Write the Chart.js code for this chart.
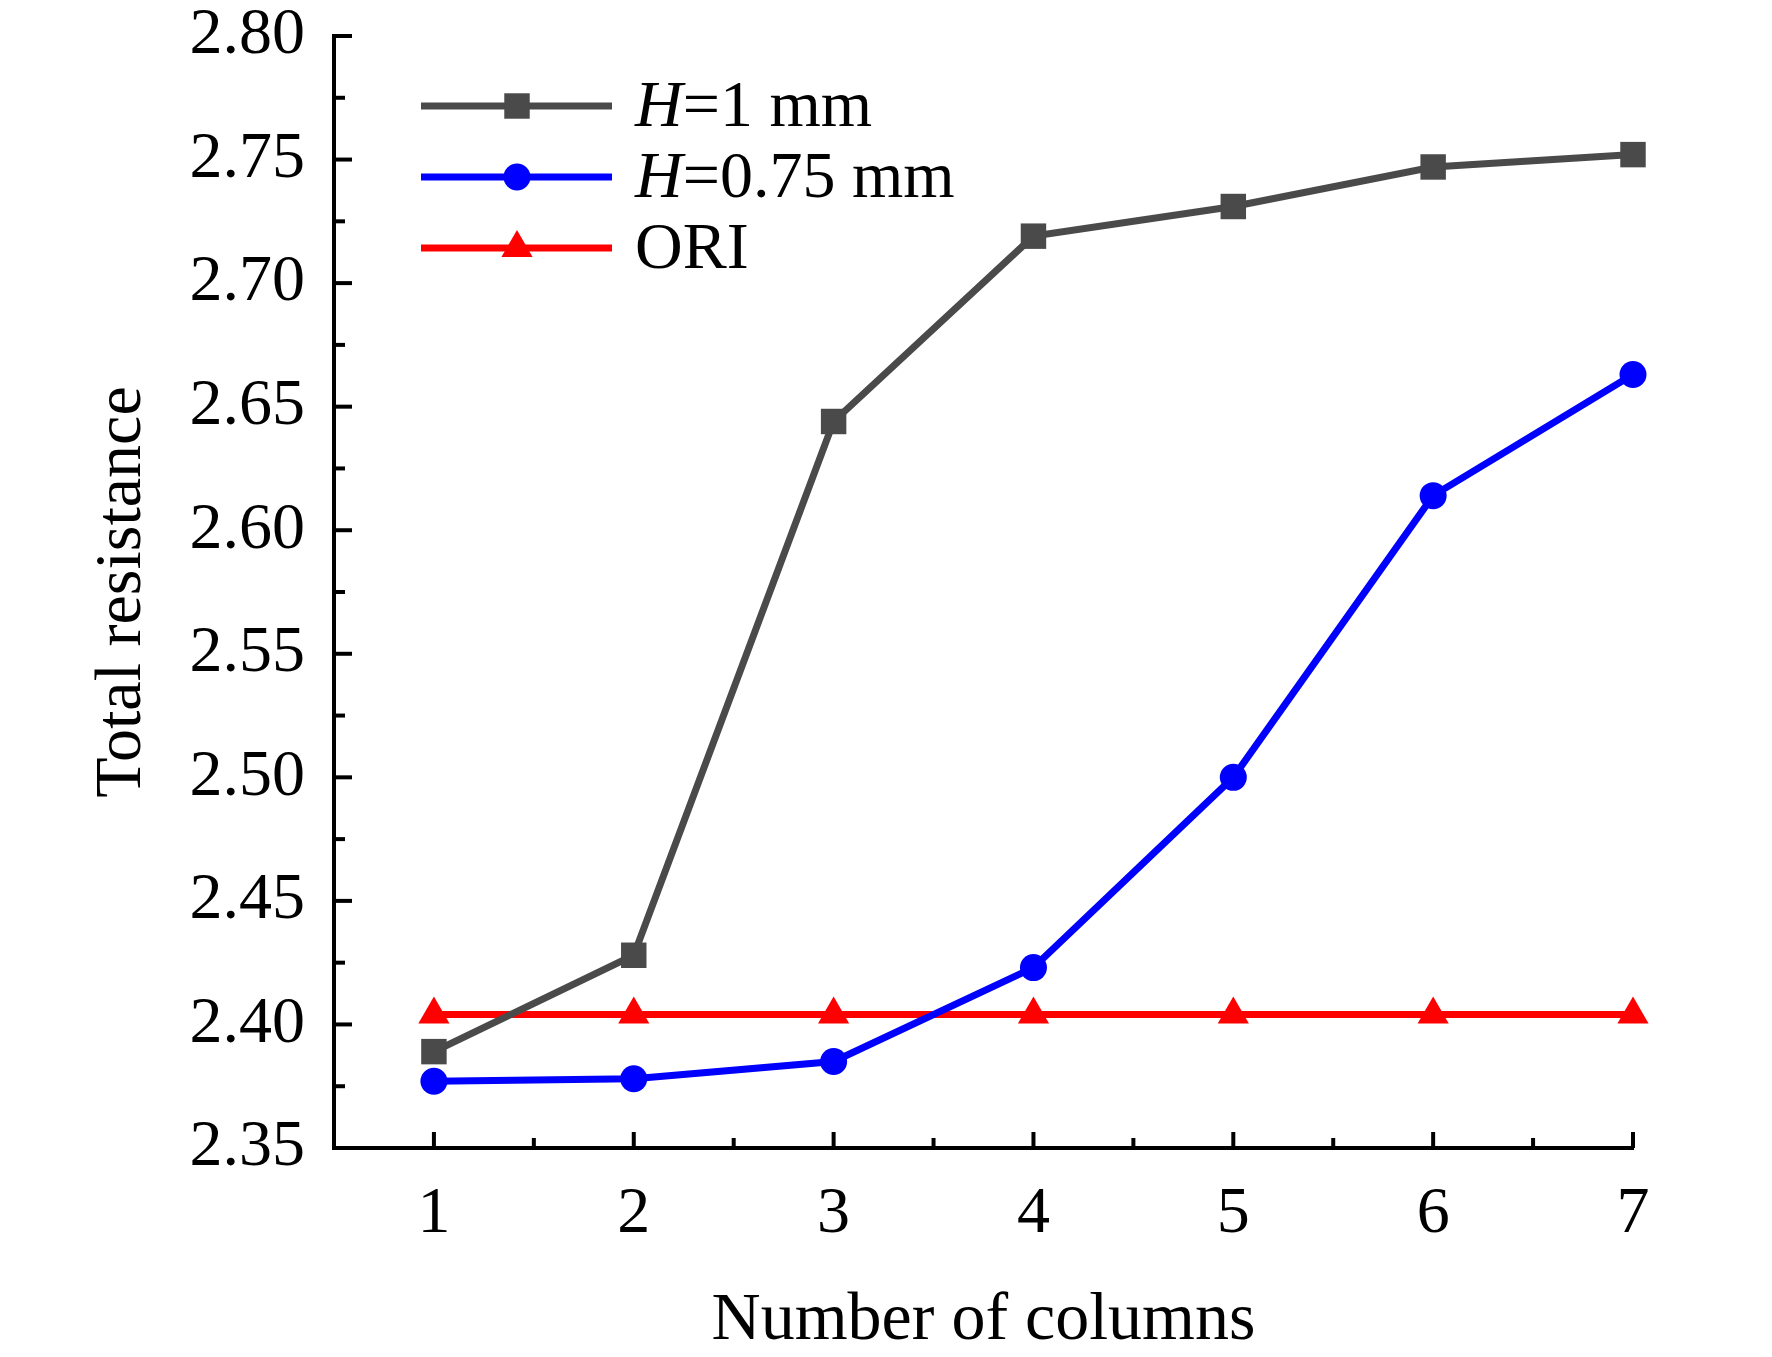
<!DOCTYPE html>
<html>
<head>
<meta charset="utf-8">
<title>Total resistance vs number of columns</title>
<script src="https://cdn.jsdelivr.net/npm/chart.js@4.4.1/dist/chart.umd.min.js"></script>
<style>
  html, body { margin: 0; padding: 0; background: #fff; }
  #wrap { width: 1772px; height: 1357px; position: relative; }
</style>
</head>
<body>
<div id="wrap"><canvas id="resistance"></canvas></div>
<script>
  // x values (number of columns)
  const columns = [1, 2, 3, 4, 5, 6, 7];
  // total resistance
  const h1mm   = [2.389, 2.428, 2.644, 2.719, 2.731, 2.747, 2.752];
  const h075mm = [2.377, 2.378, 2.385, 2.423, 2.500, 2.614, 2.663];
  const ori    = [2.404, 2.404, 2.404, 2.404, 2.404, 2.404, 2.404];
  // y axis tick labels
  const yTicks = ['2.35', '2.40', '2.45', '2.50', '2.55', '2.60', '2.65', '2.70', '2.75', '2.80'];

  const serif = "'Liberation Serif', 'Times New Roman', serif";
  const toPoints = vals => columns.map((c, i) => ({ x: c, y: vals[i] }));

  // draw a marker the same way Chart.js shapes it
  function marker(ctx, style, r, x, y, color) {
    ctx.fillStyle = color;
    ctx.beginPath();
    if (style === 'rect') {
      const s = Math.SQRT1_2 * r;
      ctx.rect(x - s, y - s, 2 * s, 2 * s);
    } else if (style === 'triangle') {
      ctx.moveTo(x, y - r);
      ctx.lineTo(x + r * 0.866, y + r / 2);
      ctx.lineTo(x - r * 0.866, y + r / 2);
      ctx.closePath();
    } else {
      ctx.arc(x, y, r, 0, Math.PI * 2);
    }
    ctx.fill();
  }

  // ticks pointing into the plot, major + minor
  const innerTicks = {
    id: 'innerTicks',
    beforeDatasetsDraw(chart) {
      const { ctx, chartArea, scales: { x, y } } = chart;
      const seg = (x1, y1, x2, y2) => { ctx.beginPath(); ctx.moveTo(x1, y1); ctx.lineTo(x2, y2); ctx.stroke(); };
      ctx.save();
      ctx.strokeStyle = '#000';
      ctx.lineWidth = 4;
      const yVals = yTicks.map(Number);
      yVals.forEach((v, i) => {
        const py = y.getPixelForValue(v);
        if (i > 0) seg(chartArea.left, py, chartArea.left + 18, py);
        if (i < yVals.length - 1) {
          const pm = y.getPixelForValue((v + yVals[i + 1]) / 2);
          seg(chartArea.left, pm, chartArea.left + 11, pm);
        }
      });
      columns.forEach((c, i) => {
        const px = x.getPixelForValue(c);
        seg(px, chartArea.bottom, px, chartArea.bottom - 16);
        if (i < columns.length - 1) {
          const pm = x.getPixelForValue(c + 0.5);
          seg(pm, chartArea.bottom, pm, chartArea.bottom - 10);
        }
      });
      ctx.restore();
    }
  };

  // legend: line with marker in the middle, "H" in italics
  const lineLegend = {
    id: 'lineLegend',
    afterDatasetsDraw(chart) {
      const ctx = chart.ctx;
      ctx.save();
      chart.data.datasets.forEach((ds, i) => {
        const rowY = 106 + i * 71;
        ctx.strokeStyle = ds.borderColor;
        ctx.lineWidth = ds.borderWidth;
        ctx.beginPath();
        ctx.moveTo(421, rowY);
        ctx.lineTo(612, rowY);
        ctx.stroke();
        marker(ctx, ds.pointStyle, ds.pointRadius, 517, rowY, ds.borderColor);

        ctx.fillStyle = '#000';
        ctx.textBaseline = 'alphabetic';
        ctx.textAlign = 'left';
        let tx = 635;
        const base = rowY + 20;
        let text = ds.label;
        if (text.startsWith('H=')) {
          ctx.font = 'italic 66px ' + serif;
          ctx.fillText('H', tx, base);
          tx += ctx.measureText('H').width;
          text = text.slice(1);
        }
        ctx.font = '66px ' + serif;
        ctx.fillText(text, tx, base);
      });
      ctx.restore();
    }
  };

  const ctx = document.getElementById('resistance').getContext('2d');

  const resistanceChart = new Chart(ctx, {
    type: 'line',
    data: {
      datasets: [
        {
          label: 'H=1 mm',
          data: toPoints(h1mm),
          borderColor: '#4a4a4a',
          backgroundColor: '#4a4a4a',
          borderWidth: 7,
          pointStyle: 'rect',
          pointRadius: 18,
          pointBorderWidth: 0,
          clip: false
        },
        {
          label: 'H=0.75 mm',
          data: toPoints(h075mm),
          borderColor: '#0000ff',
          backgroundColor: '#0000ff',
          borderWidth: 7,
          pointStyle: 'circle',
          pointRadius: 13.5,
          pointBorderWidth: 0,
          clip: false
        },
        {
          label: 'ORI',
          data: toPoints(ori),
          borderColor: '#ff0000',
          backgroundColor: '#ff0000',
          borderWidth: 7,
          pointStyle: 'triangle',
          pointRadius: 18,
          pointBorderWidth: 0,
          clip: false
        }
      ]
    },
    options: {
      responsive: true,
      maintainAspectRatio: false,
      animation: false,
      events: [],
      layout: { padding: { left: 0, top: 36, right: 139, bottom: 0 } },
      plugins: {
        legend: { display: false },
        tooltip: { enabled: false }
      },
      scales: {
        x: {
          type: 'linear',
          min: 0.5,
          max: 7,
          grid: { display: false, drawTicks: false },
          border: { display: true, color: '#000', width: 4 },
          afterBuildTicks: s => { s.ticks = columns.map(v => ({ value: v })); },
          afterFit: s => { s.height = 209; s.paddingLeft = 0; s.paddingRight = 0; },
          ticks: {
            color: '#000',
            padding: 27,
            maxRotation: 0,
            autoSkip: false,
            font: { family: serif, size: 66 },
            callback: v => String(v)
          },
          title: {
            display: true,
            text: 'Number of columns',
            color: '#000',
            font: { family: serif, size: 68, lineHeight: 1 },
            padding: { top: 0, bottom: 2 }
          }
        },
        y: {
          type: 'linear',
          min: 2.35,
          max: 2.80,
          grid: { display: false, drawTicks: false },
          border: { display: true, color: '#000', width: 4 },
          afterBuildTicks: s => { s.ticks = yTicks.map(t => ({ value: Number(t) })); },
          afterFit: s => { s.width = 334; s.paddingTop = 0; s.paddingBottom = 0; },
          ticks: {
            color: '#000',
            padding: 29,
            autoSkip: false,
            font: { family: serif, size: 66 },
            callback: v => Number(v).toFixed(2)
          },
          title: {
            display: true,
            text: 'Total resistance',
            color: '#000',
            font: { family: serif, size: 66, lineHeight: 1 },
            padding: { top: 90, bottom: 0 }
          }
        }
      }
    },
    plugins: [innerTicks, lineLegend]
  });
</script>
</body>
</html>
